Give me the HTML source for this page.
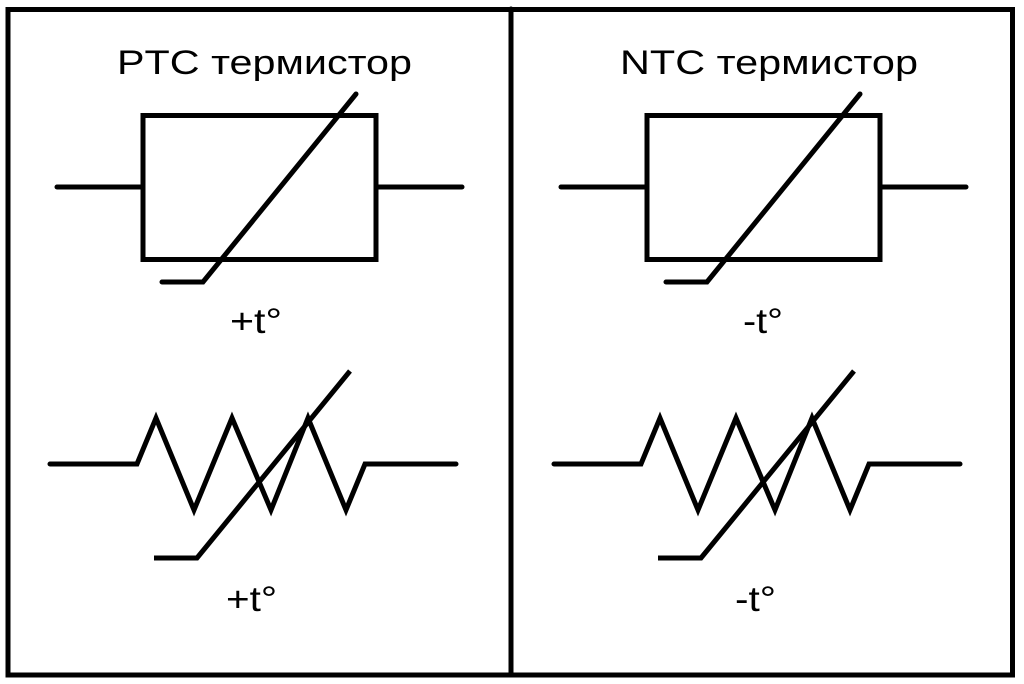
<!DOCTYPE html>
<html><head><meta charset="utf-8"><style>
html,body{margin:0;padding:0;background:#fff;}
svg{display:block;}
text{font-family:"Liberation Sans",sans-serif;fill:#000;}
</style></head><body>
<svg width="1024" height="684" viewBox="0 0 1024 684" xmlns="http://www.w3.org/2000/svg">
<rect x="0" y="0" width="1024" height="684" fill="#fff"/>
<g fill="none" stroke="#000" stroke-width="5" stroke-linecap="round" stroke-linejoin="miter">
<rect x="8" y="9.5" width="1004.5" height="665.5"/>
<line x1="511" y1="9" x2="511" y2="675"/>
<g>
<rect x="143" y="115.5" width="233" height="144"/>
<line x1="57" y1="187" x2="141" y2="187"/>
<line x1="378" y1="187" x2="462" y2="187"/>
<polyline points="162,282 203,282 356,94"/>
<polyline points="50,464 137,464 156,418 194,510 232,418 271,510 308,418 346,510 365,464 456,464"/>
<polyline points="154,558 197,558 350,371" stroke-linecap="butt"/>
</g>
<g transform="translate(504,0)">
<rect x="143" y="115.5" width="233" height="144"/>
<line x1="57" y1="187" x2="141" y2="187"/>
<line x1="378" y1="187" x2="462" y2="187"/>
<polyline points="162,282 203,282 356,94"/>
<polyline points="50,464 137,464 156,418 194,510 232,418 271,510 308,418 346,510 365,464 456,464"/>
<polyline points="154,558 197,558 350,371" stroke-linecap="butt"/>
</g>
</g>
<text x="117" y="74" font-size="34" textLength="295" lengthAdjust="spacingAndGlyphs">PTC термистор</text>
<text x="620" y="74" font-size="34" textLength="298" lengthAdjust="spacingAndGlyphs">NTC термистор</text>
<text x="230" y="333" font-size="35" textLength="52" lengthAdjust="spacingAndGlyphs">+t°</text>
<text x="743" y="333" font-size="35" textLength="40" lengthAdjust="spacingAndGlyphs">-t°</text>
<text x="226" y="611" font-size="35" textLength="51" lengthAdjust="spacingAndGlyphs">+t°</text>
<text x="735" y="611" font-size="35" textLength="41" lengthAdjust="spacingAndGlyphs">-t°</text>
</svg>
</body></html>
